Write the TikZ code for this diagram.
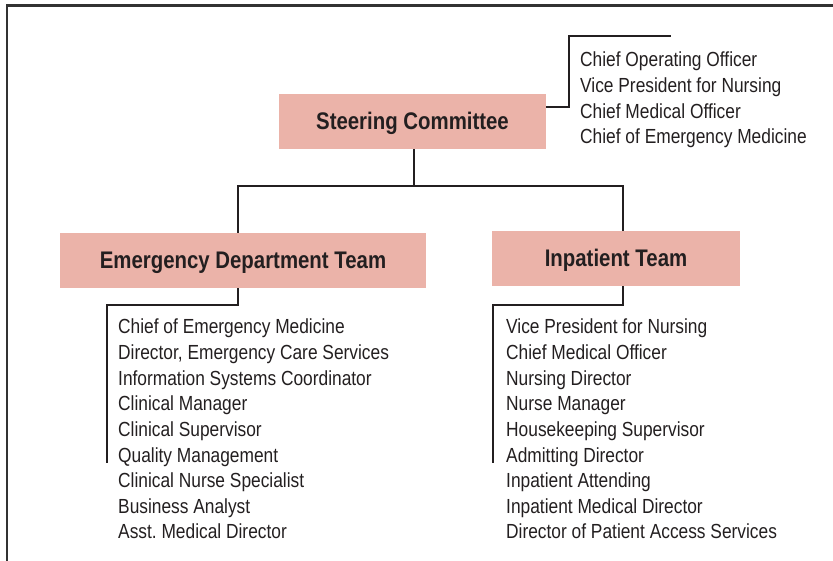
\documentclass[tikz,border=0pt]{standalone}
\usepackage{fontspec}
\newfontfamily\condfont[FakeStretch=0.85]{Liberation Sans}
\definecolor{ink}{RGB}{35,31,32}
\definecolor{boxpink}{RGB}{235,179,169}
\definecolor{framegray}{RGB}{50,50,50}
\frenchspacing
\tikzset{
  teambox/.style={fill=boxpink, inner sep=0pt, text=ink, text height=17pt, text depth=0pt,
    font=\condfont\bfseries\fontsize{24}{28}\selectfont},
  member/.style={anchor=base west, inner sep=0pt, text=ink,
    font=\condfont\fontsize{20.4}{24}\selectfont},
  link/.style={draw=ink, line width=2.3pt},
  framestyle/.style={draw=framegray, line width=2.4pt}
}
\begin{document}
\begin{tikzpicture}[x=1pt,y=-1pt]
\useasboundingbox (0,0) rectangle (833,561);
% frame
\coordinate (fbl) at (7,561);
\coordinate (ftl) at (7,5.5);
\coordinate (ftr) at (833,5.5);
\draw[framestyle] (fbl) -- (ftl) -- (ftr);

% boxes
\node[teambox, minimum width=267pt, minimum height=55pt] (sc) at (412.5,121.5) {Steering Committee};
\node[teambox, minimum width=366pt, minimum height=55pt] (ed) at (243,260.5) {Emergency Department Team};
\node[teambox, minimum width=248pt, minimum height=55pt] (ip) at (616,258.5) {Inpatient Team};

% steering committee members
\foreach \t [count=\i] in {Chief Operating Officer, Vice President for Nursing, Chief Medical Officer, Chief of Emergency Medicine}
  \node[member] (sm\i) at (580,{67+25.6*(\i-1)}) {\t};

% ED members
\foreach \t [count=\i] in {Chief of Emergency Medicine, {Director, Emergency Care Services}, Information Systems Coordinator, Clinical Manager, Clinical Supervisor, Quality Management, Clinical Nurse Specialist, Business Analyst, Asst.\ Medical Director}
  \node[member] (em\i) at (118,{334+25.6*(\i-1)}) {\t};

% Inpatient members
\foreach \t [count=\i] in {Vice President for Nursing, Chief Medical Officer, Nursing Director, Nurse Manager, Housekeeping Supervisor, Admitting Director, Inpatient Attending, Inpatient Medical Director, Director of Patient Access Services}
  \node[member] (im\i) at (506,{334+25.6*(\i-1)}) {\t};

% connectors
\coordinate (scbr) at (671,36);
\draw[link] ([yshift=14.5pt]sc.east) -- ++(23,0) |- (scbr);

\coordinate (bus) at (414,186);
\draw[link] ([xshift=1.5pt]sc.south) -- (bus);
\draw[link] ([xshift=-5pt]ed.north) |- ([xshift=7pt]ip.north |- bus) -- ([xshift=7pt]ip.north);

\coordinate (edend) at (107,463);
\draw[link] ([xshift=-5pt]ed.south) -- ++(0,17) -| (edend);

\coordinate (ipend) at (493,463);
\draw[link] ([xshift=7pt]ip.south) -- ++(0,19) -| (ipend);
\end{tikzpicture}
\end{document}
